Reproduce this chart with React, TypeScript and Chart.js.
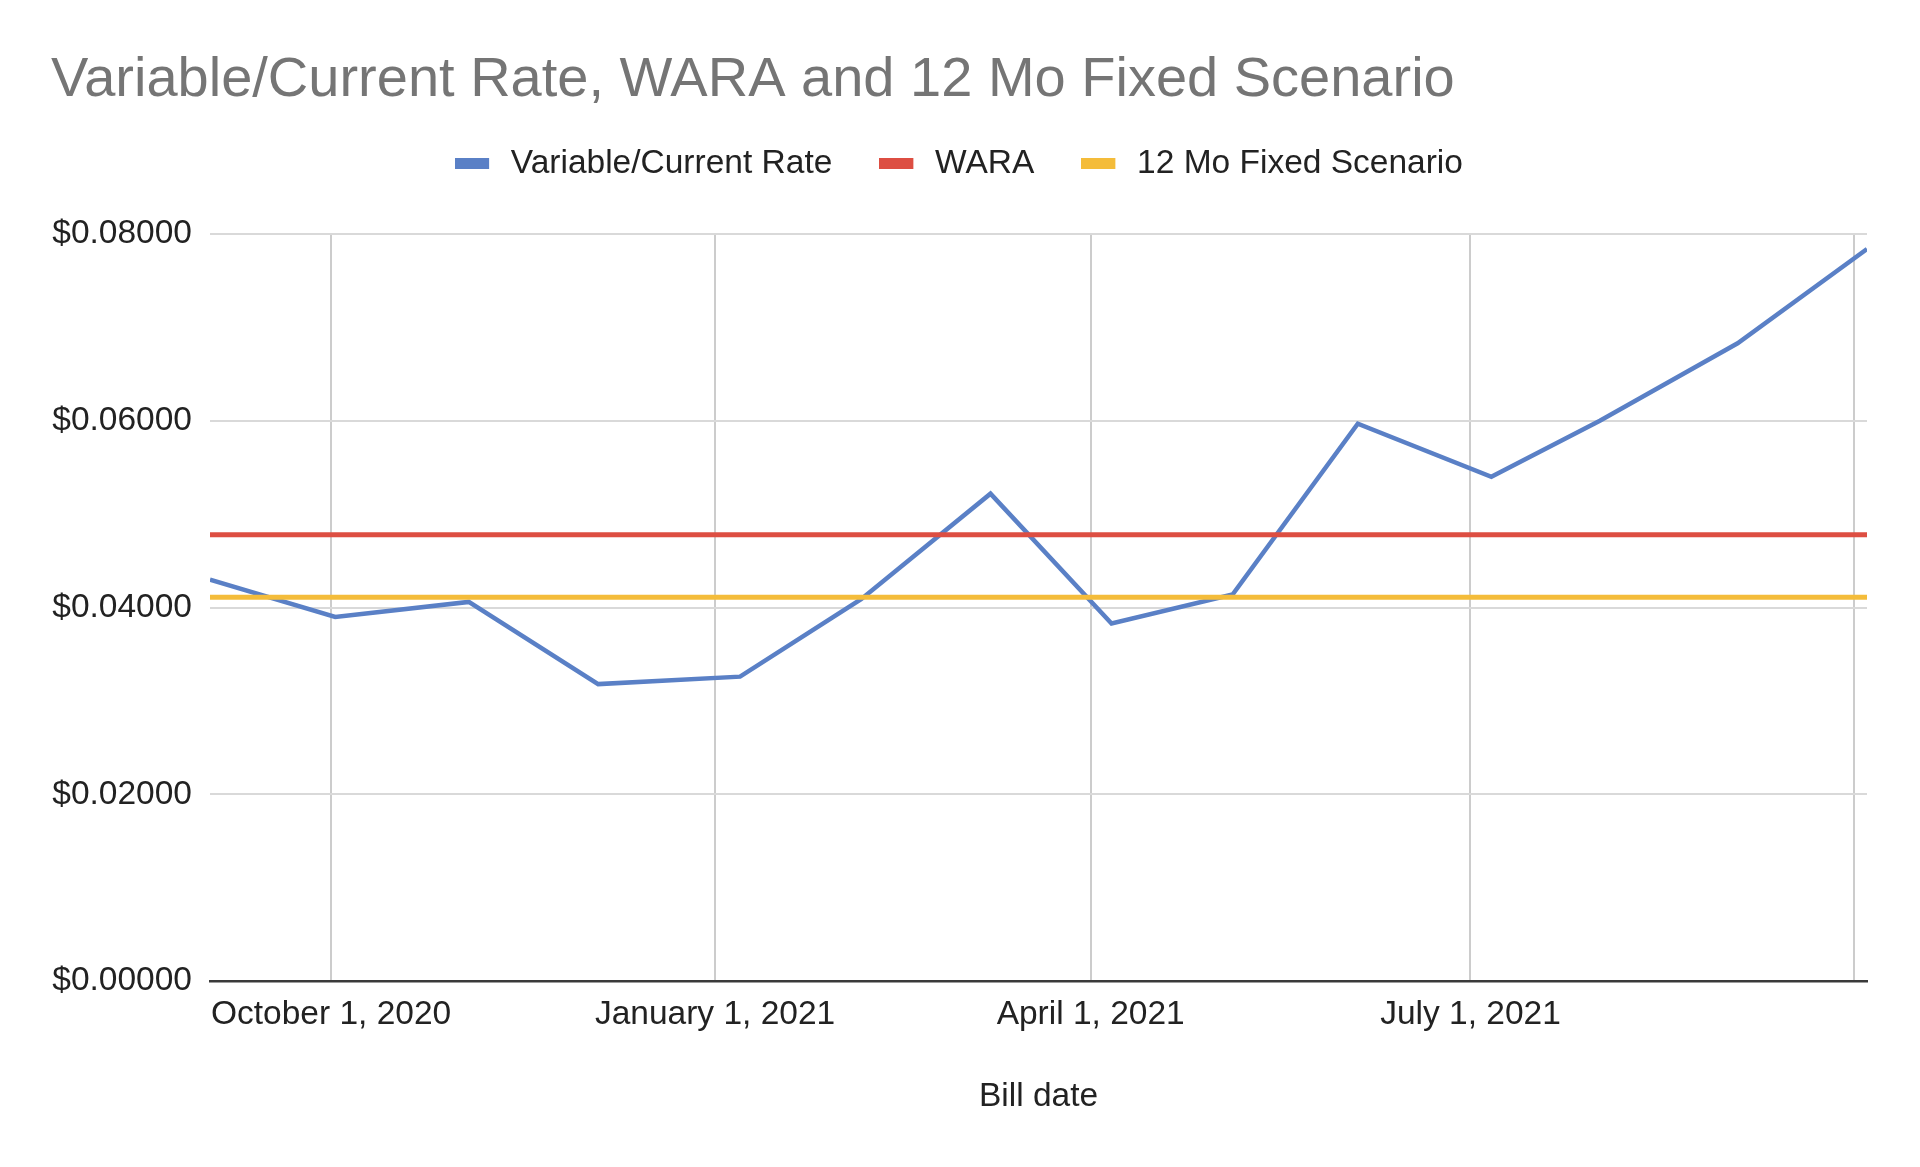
import { useEffect, useRef } from 'react';
import { Chart, registerables } from 'chart.js';

Chart.register(...registerables);

// ---- data ----
const chartTitle = 'Variable/Current Rate, WARA and 12 Mo Fixed Scenario';
const xAxisTitle = 'Bill date';
const seriesNames = ['Variable/Current Rate', 'WARA', '12 Mo Fixed Scenario'];
const billDates = [
  '2020-09-02', '2020-10-02', '2020-11-03', '2020-12-04', '2021-01-07', '2021-02-05', '2021-03-08',
  '2021-04-06', '2021-05-05', '2021-06-04', '2021-07-06', '2021-08-01', '2021-09-03', '2021-10-04',
];
const variableRate = [0.0430, 0.0390, 0.0406, 0.0318, 0.0326, 0.0409, 0.0522, 0.0383, 0.0414, 0.0597, 0.0540, 0.0600, 0.0683, 0.0784];
const waraRate = [0.0478, 0.0478, 0.0478, 0.0478, 0.0478, 0.0478, 0.0478, 0.0478, 0.0478, 0.0478, 0.0478, 0.0478, 0.0478, 0.0478];
const fixedRate = [0.0411, 0.0411, 0.0411, 0.0411, 0.0411, 0.0411, 0.0411, 0.0411, 0.0411, 0.0411, 0.0411, 0.0411, 0.0411, 0.0411];
const xTickDates = ['2020-10-01', '2021-01-01', '2021-04-01', '2021-07-01', '2021-10-01'];
const xTickLabels = ['October 1, 2020', 'January 1, 2021', 'April 1, 2021', 'July 1, 2021', ''];
const yTickValues = [0, 0.02, 0.04, 0.06, 0.08];

// ---- styles ----
const seriesColors = ['#5a80c6', '#dd4e42', '#f4bc3a'];
const seriesWidths = [4.5, 5, 5];
const FONT = "'Liberation Sans', Arial, Helvetica, sans-serif";
const LABEL_SIZE = 33.5;
const W = 1920;
const H = 1167;
const PLOT_BOTTOM = 981;
const PAD_LEFT = 51;
const Y_AXIS_WIDTH = 159;

const toTime = (d: string) => {
  const [y, m, dd] = d.split('-').map(Number);
  return Date.UTC(y, m - 1, dd);
};

export default function App() {
  const ref = useRef<HTMLCanvasElement | null>(null);

  useEffect(() => {
    document.body.style.margin = '0';
    const canvas = ref.current;
    if (!canvas) return;

    const swatches = seriesColors.map((c) => {
      const cv = document.createElement('canvas');
      cv.width = 39;
      cv.height = 11;
      const cx = cv.getContext('2d')!;
      cx.fillStyle = c;
      cx.fillRect(0, 0, 34, 11);
      return cv;
    });

    const seriesValues = [variableRate, waraRate, fixedRate];
    const datasets = seriesValues.map((vals, i) => ({
      label: seriesNames[i],
      data: billDates.map((d, j) => ({ x: toTime(d), y: vals[j] })),
      borderColor: seriesColors[i],
      backgroundColor: seriesColors[i],
      borderWidth: seriesWidths[i],
      pointRadius: 0,
      pointHoverRadius: 0,
      tension: 0,
      fill: false,
      order: 3 - i,
    }));

    const chart = new Chart(canvas, {
      type: 'line',
      data: { datasets } as any,
      options: {
        responsive: false,
        animation: false,
        devicePixelRatio: 1,
        events: [],
        layout: { padding: { top: 0, left: PAD_LEFT, right: 53, bottom: 0 } },
        plugins: {
          title: {
            display: true,
            text: chartTitle,
            align: 'start',
            color: '#757575',
            font: { family: FONT, size: 56, weight: 'normal', lineHeight: 0.675 },
            padding: { top: 62.1, bottom: 0 },
          },
          subtitle: {
            display: true,
            text: '',
            weight: 500,
            font: { family: FONT, size: 1, lineHeight: 1 },
            padding: { top: 42.7, bottom: 0 },
          } as any,
          legend: {
            display: true,
            position: 'top',
            align: 'center',
            labels: {
              usePointStyle: true,
              pointStyleWidth: 39,
              boxHeight: 11,
              padding: 47,
              color: '#222222',
              font: { family: FONT, size: LABEL_SIZE },
              generateLabels: (ch: any) => {
                const items = (Chart.defaults.plugins.legend.labels as any).generateLabels(ch);
                items.sort((a: any, b: any) => a.datasetIndex - b.datasetIndex);
                return items.map((it: any) => ({ ...it, pointStyle: swatches[it.datasetIndex], lineWidth: 0 }));
              },
            },
          } as any,
          tooltip: { enabled: false },
        },
        scales: {
          x: {
            type: 'linear',
            min: toTime(billDates[0]),
            max: toTime(billDates[billDates.length - 1]),
            afterBuildTicks: (s: any) => {
              s.ticks = xTickDates.map((d) => ({ value: toTime(d) }));
            },
            afterFit: (s: any) => {
              s.height = H - PLOT_BOTTOM;
            },
            ticks: {
              autoSkip: false,
              maxRotation: 0,
              minRotation: 0,
              padding: 13.5,
              color: '#222222',
              font: { family: FONT, size: LABEL_SIZE },
              callback: (_v: any, i: number) => xTickLabels[i] ?? '',
            },
            grid: { color: '#cccccc', lineWidth: 2, drawTicks: false },
            border: { display: true, color: '#3a3a3a', width: 2.5 },
            title: {
              display: true,
              text: xAxisTitle,
              color: '#222222',
              font: { family: FONT, size: LABEL_SIZE },
              padding: { top: 0, bottom: 49.7 },
            },
          },
          y: {
            min: 0,
            max: 0.08,
            afterBuildTicks: (s: any) => {
              s.ticks = yTickValues.map((v) => ({ value: v }));
            },
            afterFit: (s: any) => {
              s.width = Y_AXIS_WIDTH;
            },
            ticks: {
              padding: 18,
              color: '#222222',
              font: { family: FONT, size: LABEL_SIZE },
              callback: (v: any) => '$' + Number(v).toFixed(5),
            },
            grid: { color: '#d9d9d9', lineWidth: 2, drawTicks: false },
            border: { display: false },
          },
        },
      } as any,
    });

    return () => chart.destroy();
  }, []);

  return (
    <div style={{ width: W, height: H, position: 'relative', background: '#ffffff' }}>
      <canvas ref={ref} width={W} height={H} style={{ display: 'block' }} />
    </div>
  );
}
